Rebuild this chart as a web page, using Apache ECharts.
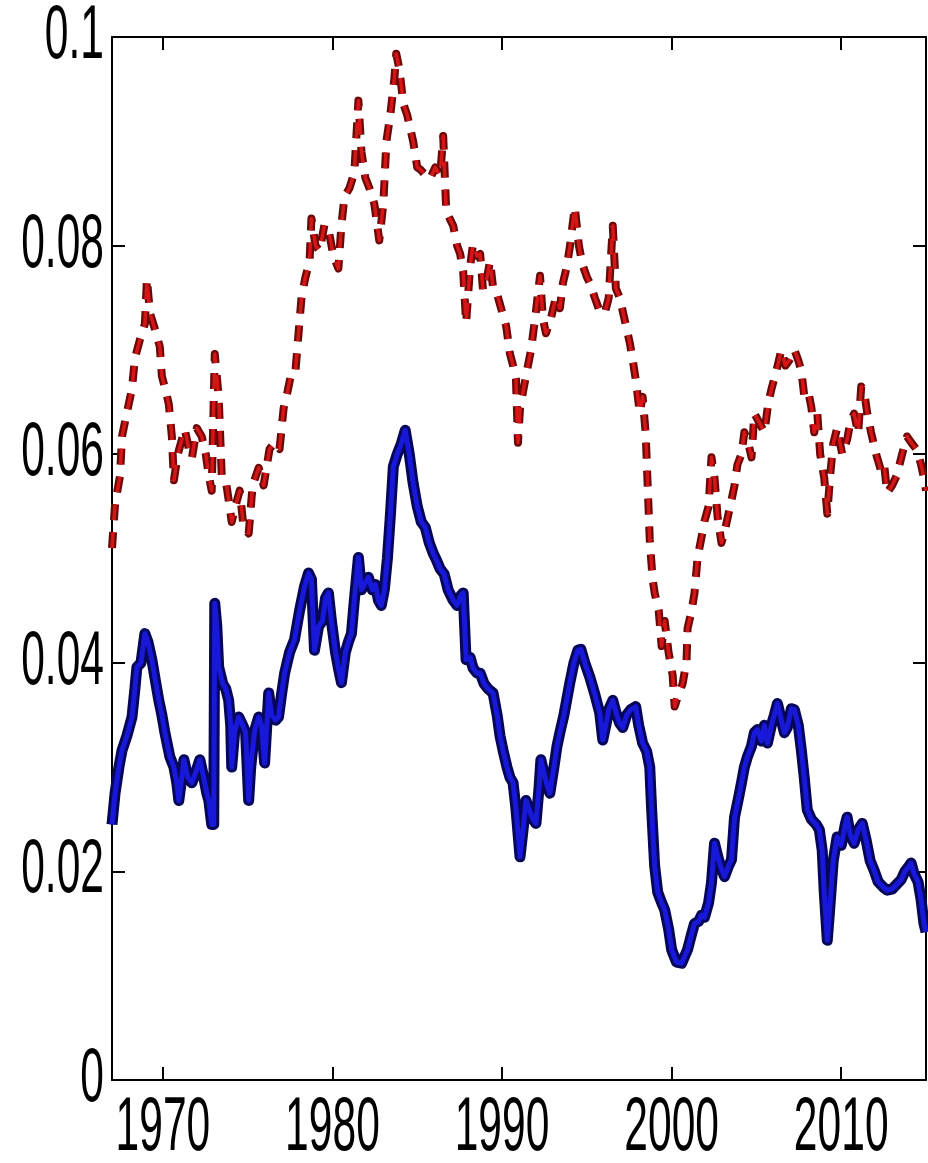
<!DOCTYPE html>
<html>
<head>
<meta charset="utf-8">
<script src="https://cdn.jsdelivr.net/npm/echarts@6/dist/echarts.min.js"></script>
<style>
  html, body { margin: 0; padding: 0; background: #fff; }
  #chart { width: 928px; height: 1163px; }
</style>
</head>
<body>
<div id="chart"></div>
<script>
// tick labels
const yearTicks = [1970, 1980, 1990, 2000, 2010];
const rateTicks = [0, 0.02, 0.04, 0.06, 0.08, 0.1];
const rateTickText = ['0', '0.02', '0.04', '0.06', '0.08', '0.1'];

// dashed red series: [year, value]
const dashedRed = [
  [1967.00, 0.0510], [1967.18, 0.0552], [1967.47, 0.0579], [1967.59, 0.0617], [1967.88, 0.0640],
  [1968.18, 0.0663], [1968.35, 0.0692], [1968.65, 0.0710], [1968.94, 0.0725], [1969.06, 0.0768],
  [1969.24, 0.0735], [1969.53, 0.0720], [1969.82, 0.0703], [1969.94, 0.0675], [1970.18, 0.0660],
  [1970.35, 0.0648], [1970.53, 0.0617], [1970.65, 0.0575], [1970.88, 0.0600], [1971.29, 0.0624],
  [1971.53, 0.0605], [1971.71, 0.0596], [1972.00, 0.0625], [1972.29, 0.0617], [1972.53, 0.0600],
  [1972.71, 0.0579], [1972.88, 0.0565], [1973.06, 0.0696], [1973.29, 0.0655], [1973.47, 0.0580],
  [1973.71, 0.0575], [1973.88, 0.0556], [1974.06, 0.0535], [1974.24, 0.0548], [1974.53, 0.0565],
  [1974.76, 0.0530], [1975.06, 0.0524], [1975.29, 0.0570], [1975.65, 0.0587], [1975.94, 0.0570],
  [1976.29, 0.0605], [1976.59, 0.0611], [1976.88, 0.0605], [1977.12, 0.0644], [1977.35, 0.0660],
  [1977.59, 0.0679], [1977.82, 0.0680], [1978.00, 0.0716], [1978.18, 0.0751], [1978.41, 0.0770],
  [1978.65, 0.0785], [1978.76, 0.0826], [1979.00, 0.0800], [1979.24, 0.0795], [1979.53, 0.0820],
  [1979.76, 0.0816], [1980.06, 0.0790], [1980.35, 0.0778], [1980.53, 0.0820], [1980.71, 0.0847],
  [1981.00, 0.0855], [1981.29, 0.0870], [1981.53, 0.0939], [1981.71, 0.0890], [1981.94, 0.0865],
  [1982.18, 0.0855], [1982.47, 0.0840], [1982.76, 0.0805], [1983.00, 0.0840], [1983.18, 0.0900],
  [1983.41, 0.0925], [1983.65, 0.0960], [1983.76, 0.0984], [1983.94, 0.0970], [1984.18, 0.0936],
  [1984.41, 0.0925], [1984.59, 0.0912], [1984.76, 0.0900], [1985.00, 0.0875], [1985.18, 0.0873],
  [1985.47, 0.0868], [1985.76, 0.0864], [1986.06, 0.0875], [1986.35, 0.0867], [1986.53, 0.0905],
  [1986.71, 0.0833], [1986.94, 0.0825], [1987.12, 0.0819], [1987.35, 0.0800], [1987.53, 0.0792],
  [1987.71, 0.0775], [1987.88, 0.0726], [1988.12, 0.0780], [1988.29, 0.0802], [1988.53, 0.0790],
  [1988.71, 0.0792], [1988.88, 0.0757], [1989.12, 0.0770], [1989.29, 0.0785], [1989.47, 0.0760],
  [1989.65, 0.0757], [1989.94, 0.0740], [1990.24, 0.0723], [1990.47, 0.0696], [1990.65, 0.0685],
  [1990.82, 0.0672], [1990.94, 0.0611], [1991.06, 0.0644], [1991.24, 0.0660], [1991.41, 0.0675],
  [1991.71, 0.0700], [1992.00, 0.0737], [1992.24, 0.0771], [1992.41, 0.0730], [1992.59, 0.0716],
  [1992.88, 0.0730], [1993.18, 0.0751], [1993.41, 0.0740], [1993.59, 0.0764], [1993.82, 0.0780],
  [1994.00, 0.0799], [1994.29, 0.0837], [1994.53, 0.0800], [1994.76, 0.0781], [1995.00, 0.0770],
  [1995.18, 0.0764], [1995.47, 0.0750], [1995.76, 0.0737], [1996.06, 0.0735], [1996.29, 0.0750],
  [1996.53, 0.0819], [1996.71, 0.0759], [1996.94, 0.0750], [1997.12, 0.0737], [1997.35, 0.0720],
  [1997.53, 0.0707], [1997.71, 0.0690], [1997.88, 0.0672], [1998.12, 0.0640], [1998.29, 0.0655],
  [1998.47, 0.0620], [1998.59, 0.0569], [1998.71, 0.0518], [1998.88, 0.0480], [1999.00, 0.0467],
  [1999.24, 0.0450], [1999.41, 0.0416], [1999.59, 0.0440], [1999.82, 0.0410], [2000.06, 0.0388],
  [2000.18, 0.0358], [2000.41, 0.0370], [2000.65, 0.0380], [2000.88, 0.0402], [2000.94, 0.0433],
  [2001.18, 0.0450], [2001.35, 0.0467], [2001.53, 0.0501], [2001.76, 0.0520], [2001.94, 0.0536],
  [2002.18, 0.0550], [2002.35, 0.0597], [2002.53, 0.0577], [2002.71, 0.0540], [2002.94, 0.0515],
  [2003.18, 0.0530], [2003.53, 0.0556], [2003.71, 0.0570], [2003.88, 0.0590], [2004.12, 0.0600],
  [2004.29, 0.0621], [2004.53, 0.0610], [2004.71, 0.0597], [2004.88, 0.0639], [2005.18, 0.0630],
  [2005.47, 0.0621], [2005.71, 0.0650], [2005.88, 0.0662], [2006.18, 0.0680], [2006.47, 0.0700],
  [2006.71, 0.0685], [2006.94, 0.0690], [2007.24, 0.0700], [2007.47, 0.0690], [2007.65, 0.0680],
  [2007.82, 0.0656], [2008.06, 0.0660], [2008.24, 0.0645], [2008.41, 0.0621], [2008.59, 0.0639],
  [2008.76, 0.0600], [2009.00, 0.0577], [2009.18, 0.0543], [2009.35, 0.0580], [2009.53, 0.0610],
  [2009.76, 0.0625], [2010.06, 0.0600], [2010.35, 0.0614], [2010.53, 0.0630], [2010.76, 0.0639],
  [2011.00, 0.0620], [2011.18, 0.0665], [2011.35, 0.0660], [2011.53, 0.0640], [2011.76, 0.0621],
  [2012.06, 0.0600], [2012.35, 0.0584], [2012.53, 0.0590], [2012.71, 0.0563], [2013.00, 0.0570],
  [2013.29, 0.0580], [2013.59, 0.0600], [2013.88, 0.0617], [2014.18, 0.0610], [2014.47, 0.0604],
  [2014.71, 0.0590], [2014.88, 0.0577], [2015.00, 0.0565]
];

// solid blue series: [year, value]
const solidBlue = [
  [1967.00, 0.0245], [1967.18, 0.0275], [1967.41, 0.0300], [1967.59, 0.0316], [1967.88, 0.0330],
  [1968.18, 0.0348], [1968.35, 0.0375], [1968.47, 0.0396], [1968.71, 0.0400], [1968.94, 0.0428],
  [1969.12, 0.0420], [1969.35, 0.0403], [1969.59, 0.0380], [1969.76, 0.0364], [1969.94, 0.0350],
  [1970.12, 0.0333], [1970.41, 0.0310], [1970.65, 0.0300], [1970.82, 0.0285], [1970.94, 0.0268],
  [1971.12, 0.0290], [1971.24, 0.0307], [1971.47, 0.0290], [1971.71, 0.0285], [1971.94, 0.0295],
  [1972.18, 0.0307], [1972.41, 0.0290], [1972.59, 0.0275], [1972.71, 0.0268], [1972.88, 0.0245],
  [1973.00, 0.0245], [1973.06, 0.0457], [1973.18, 0.0435], [1973.29, 0.0396], [1973.53, 0.0380],
  [1973.71, 0.0375], [1973.88, 0.0364], [1974.00, 0.0340], [1974.06, 0.0300], [1974.24, 0.0335],
  [1974.47, 0.0348], [1974.71, 0.0340], [1974.88, 0.0333], [1975.06, 0.0268], [1975.18, 0.0300],
  [1975.41, 0.0335], [1975.65, 0.0348], [1975.82, 0.0340], [1976.00, 0.0304], [1976.24, 0.0371],
  [1976.41, 0.0350], [1976.65, 0.0345], [1976.82, 0.0348], [1977.00, 0.0370], [1977.18, 0.0390],
  [1977.47, 0.0410], [1977.76, 0.0422], [1978.06, 0.0450], [1978.35, 0.0473], [1978.59, 0.0486],
  [1978.76, 0.0480], [1978.94, 0.0412], [1979.18, 0.0435], [1979.41, 0.0440], [1979.59, 0.0462],
  [1979.76, 0.0467], [1979.94, 0.0440], [1980.18, 0.0410], [1980.35, 0.0395], [1980.53, 0.0381],
  [1980.76, 0.0410], [1980.94, 0.0420], [1981.12, 0.0428], [1981.29, 0.0460], [1981.53, 0.0501],
  [1981.71, 0.0470], [1981.88, 0.0475], [1982.12, 0.0482], [1982.35, 0.0470], [1982.53, 0.0475],
  [1982.71, 0.0460], [1982.88, 0.0455], [1983.06, 0.0470], [1983.24, 0.0500], [1983.41, 0.0540],
  [1983.59, 0.0588], [1983.82, 0.0600], [1984.06, 0.0610], [1984.29, 0.0623], [1984.53, 0.0600],
  [1984.76, 0.0572], [1985.00, 0.0550], [1985.24, 0.0535], [1985.47, 0.0530], [1985.71, 0.0515],
  [1985.94, 0.0505], [1986.12, 0.0499], [1986.35, 0.0490], [1986.59, 0.0485], [1986.82, 0.0470],
  [1987.12, 0.0460], [1987.35, 0.0455], [1987.59, 0.0465], [1987.71, 0.0467], [1987.88, 0.0403],
  [1988.12, 0.0405], [1988.29, 0.0395], [1988.53, 0.0390], [1988.71, 0.0390], [1988.94, 0.0380],
  [1989.18, 0.0375], [1989.47, 0.0371], [1989.71, 0.0350], [1989.88, 0.0330], [1990.06, 0.0316],
  [1990.29, 0.0300], [1990.47, 0.0290], [1990.65, 0.0285], [1990.82, 0.0260], [1991.06, 0.0214],
  [1991.24, 0.0240], [1991.41, 0.0268], [1991.59, 0.0260], [1991.82, 0.0250], [1992.00, 0.0246],
  [1992.18, 0.0280], [1992.29, 0.0307], [1992.53, 0.0290], [1992.71, 0.0280], [1992.82, 0.0275],
  [1993.06, 0.0300], [1993.24, 0.0320], [1993.41, 0.0333], [1993.65, 0.0350], [1993.82, 0.0365],
  [1994.00, 0.0381], [1994.24, 0.0400], [1994.47, 0.0412], [1994.65, 0.0413], [1994.88, 0.0400],
  [1995.18, 0.0386], [1995.47, 0.0370], [1995.76, 0.0352], [1995.94, 0.0326], [1996.12, 0.0340],
  [1996.29, 0.0355], [1996.53, 0.0364], [1996.76, 0.0350], [1996.94, 0.0342], [1997.12, 0.0338],
  [1997.35, 0.0350], [1997.59, 0.0355], [1997.88, 0.0358], [1998.06, 0.0340], [1998.29, 0.0323],
  [1998.53, 0.0315], [1998.71, 0.0300], [1998.82, 0.0260], [1999.00, 0.0205], [1999.18, 0.0180],
  [1999.41, 0.0170], [1999.59, 0.0163], [1999.82, 0.0145], [2000.00, 0.0125], [2000.29, 0.0113],
  [2000.59, 0.0112], [2000.94, 0.0125], [2001.18, 0.0140], [2001.35, 0.0150], [2001.59, 0.0152],
  [2001.76, 0.0158], [2001.94, 0.0156], [2002.18, 0.0170], [2002.35, 0.0189], [2002.53, 0.0227],
  [2002.71, 0.0215], [2002.88, 0.0205], [2003.12, 0.0195], [2003.35, 0.0205], [2003.53, 0.0211],
  [2003.71, 0.0252], [2003.94, 0.0270], [2004.12, 0.0285], [2004.29, 0.0300], [2004.47, 0.0310],
  [2004.71, 0.0320], [2004.88, 0.0333], [2005.06, 0.0336], [2005.29, 0.0325], [2005.47, 0.0340],
  [2005.65, 0.0323], [2005.88, 0.0340], [2006.06, 0.0350], [2006.24, 0.0361], [2006.47, 0.0345],
  [2006.65, 0.0333], [2006.82, 0.0338], [2007.06, 0.0356], [2007.24, 0.0355], [2007.47, 0.0340],
  [2007.65, 0.0316], [2007.82, 0.0290], [2008.00, 0.0259], [2008.24, 0.0250], [2008.53, 0.0245],
  [2008.71, 0.0240], [2008.88, 0.0220], [2009.00, 0.0180], [2009.18, 0.0134], [2009.35, 0.0170],
  [2009.53, 0.0210], [2009.76, 0.0233], [2010.00, 0.0225], [2010.24, 0.0245], [2010.35, 0.0252],
  [2010.53, 0.0235], [2010.76, 0.0227], [2011.00, 0.0240], [2011.24, 0.0246], [2011.47, 0.0230],
  [2011.71, 0.0210], [2011.94, 0.0201], [2012.18, 0.0190], [2012.47, 0.0185], [2012.71, 0.0182],
  [2013.00, 0.0183], [2013.29, 0.0188], [2013.53, 0.0192], [2013.76, 0.0200], [2014.00, 0.0205],
  [2014.12, 0.0208], [2014.29, 0.0198], [2014.53, 0.0190], [2014.71, 0.0173], [2014.88, 0.0150],
  [2015.00, 0.0142]
];

const chart = echarts.init(document.getElementById('chart'));

const boxAxisLine = { show: true, onZero: false, lineStyle: { color: '#000', width: 2 } };
const boxTick = { show: true, inside: true, length: 13, lineStyle: { color: '#000', width: 2 } };

const option = {
    backgroundColor: '#fff',
    animation: false,
    grid: { left: 112, right: 2, top: 37, bottom: 83, containLabel: false },
    xAxis: [
        {
            type: 'value', min: 1967, max: 2015, position: 'bottom',
            axisLine: boxAxisLine,
            axisTick: Object.assign({}, boxTick, { customValues: yearTicks }),
            axisLabel: { show: false },
            splitLine: { show: false }
        },
        {
            type: 'value', min: 1967, max: 2015, position: 'top',
            axisLine: boxAxisLine,
            axisTick: Object.assign({}, boxTick, { customValues: yearTicks }),
            axisLabel: { show: false },
            splitLine: { show: false }
        }
    ],
    yAxis: [
        {
            type: 'value', min: 0, max: 0.1, interval: 0.02, position: 'left',
            axisLine: boxAxisLine, axisTick: boxTick,
            axisLabel: { show: false },
            splitLine: { show: false }
        },
        {
            type: 'value', min: 0, max: 0.1, interval: 0.02, position: 'right',
            axisLine: boxAxisLine, axisTick: boxTick,
            axisLabel: { show: false },
            splitLine: { show: false }
        }
    ],
    series: [
        {
            type: 'line', data: dashedRed, showSymbol: false, silent: true,
            lineStyle: { color: '#6a0808', width: 8, type: [16, 12], cap: 'butt', join: 'round' }
        },
        {
            type: 'line', data: dashedRed, showSymbol: false, silent: true,
            lineStyle: { color: '#d51616', width: 3.5, type: [16, 12], cap: 'butt', join: 'round' }
        },
        {
            type: 'line', data: solidBlue, showSymbol: false, silent: true,
            lineStyle: { color: '#07075a', width: 11, join: 'round' }
        },
        {
            type: 'line', data: solidBlue, showSymbol: false, silent: true,
            lineStyle: { color: '#1818d8', width: 5, join: 'round' }
        }
    ]
};
chart.setOption(option);

// tick labels: tall narrow glyphs, so draw them as scaled text at axis positions
const labelFont = { fontSize: 76, fontFamily: '"Liberation Sans", Arial, sans-serif' };
const squeeze = 0.56;
const graphics = [];
const axisY = chart.convertToPixel({ yAxisIndex: 0 }, 0);
const axisX = chart.convertToPixel({ xAxisIndex: 0 }, 1967);
yearTicks.forEach(function (yr) {
    graphics.push({
        type: 'text',
        x: chart.convertToPixel({ xAxisIndex: 0 }, yr),
        y: axisY + 49,
        scaleX: squeeze,
        style: Object.assign({ text: String(yr), fill: '#000', align: 'center', verticalAlign: 'middle' }, labelFont)
    });
});
rateTicks.forEach(function (v, i) {
    graphics.push({
        type: 'text',
        x: axisX - 8,
        y: chart.convertToPixel({ yAxisIndex: 0 }, v),
        scaleX: squeeze,
        style: Object.assign({ text: rateTickText[i], fill: '#000', align: 'right', verticalAlign: 'middle' }, labelFont)
    });
});
chart.setOption({ graphic: graphics });

window.addEventListener('resize', function () {
    chart.resize();
});
</script>
</body>
</html>
